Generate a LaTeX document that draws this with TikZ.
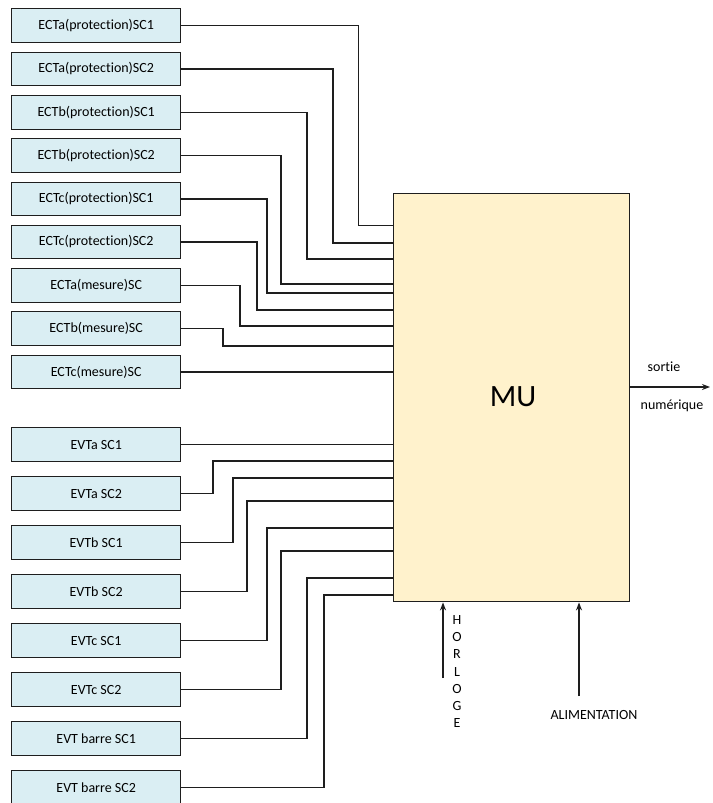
\documentclass[tikz,border=0pt]{standalone}
\usepackage{fontspec}
\setmainfont[Ligatures=NoCommon]{Carlito}
\usetikzlibrary{arrows.meta}
\definecolor{boxblue}{HTML}{DAEEF3}
\definecolor{mufill}{HTML}{FFF2CC}
\definecolor{edge}{HTML}{1E1E1E}
\begin{document}
\begin{tikzpicture}[x=1pt,y=-1pt,
  srcbox/.style={draw=edge,line width=1.4pt,fill=boxblue,minimum width=169pt,minimum height=33.5pt,anchor=north west,inner sep=0pt,font=\fontsize{14}{16}\selectfont},
  wire/.style={line width=1.3pt,draw=edge},
  inarrow/.style={line width=1.3pt,draw=edge,-{Stealth[length=8pt,width=6pt]}},
  lbl/.style={font=\fontsize{14}{16}\selectfont,inner sep=0pt}]
\clip (0,0) rectangle (712,803);
\fill[white] (0,0) rectangle (712,803);
% MU block
\node[draw=edge,line width=1.4pt,fill=mufill,minimum width=236pt,minimum height=408pt,anchor=north west,inner sep=0pt] (mu) at (393,193) {};
\node[font=\fontsize{31}{34}\selectfont,inner sep=0pt] (mut) at (513,397) {MU};
% ECT boxes
\node[srcbox] (c1) at (11,8) {ECTa(protection)SC1};
\node[srcbox] (c2) at (11,51.5) {ECTa(protection)SC2};
\node[srcbox] (c3) at (11,95) {ECTb(protection)SC1};
\node[srcbox] (c4) at (11,138) {ECTb(protection)SC2};
\node[srcbox] (c5) at (11,181.5) {ECTc(protection)SC1};
\node[srcbox] (c6) at (11,224.5) {ECTc(protection)SC2};
\node[srcbox] (c7) at (11,268) {ECTa(mesure)SC};
\node[srcbox] (c8) at (11,311) {ECTb(mesure)SC};
\node[srcbox] (c9) at (11,354.5) {ECTc(mesure)SC};
% EVT boxes
\node[srcbox,minimum height=34pt] (v1) at (11,427) {EVTa SC1};
\node[srcbox,minimum height=34pt] (v2) at (11,476) {EVTa SC2};
\node[srcbox,minimum height=34pt] (v3) at (11,525) {EVTb SC1};
\node[srcbox,minimum height=34pt] (v4) at (11,574) {EVTb SC2};
\node[srcbox,minimum height=34pt] (v5) at (11,623) {EVTc SC1};
\node[srcbox,minimum height=34pt] (v6) at (11,672) {EVTc SC2};
\node[srcbox,minimum height=34pt] (v7) at (11,721) {EVT barre SC1};
\node[srcbox,minimum height=34pt] (v8) at (11,770) {EVT barre SC2};
% ECT wires
\draw[wire] (c1.east) -| (358.7,225.7) -- (mu.west |- 0,225.7);
\draw[wire] (c2.east) -| (333,243) -- (mu.west |- 0,243);
\draw[wire] (c3.east) -| (307,259) -- (mu.west |- 0,259);
\draw[wire] (c4.east) -| (281,284) -- (mu.west |- 0,284);
\draw[wire] (c5.east) -| (267,293) -- (mu.west |- 0,293);
\draw[wire] (c6.east) -| (257,310) -- (mu.west |- 0,310);
\draw[wire] (c7.east) -| (240,326) -- (mu.west |- 0,326);
\draw[wire] (c8.east) -| (223,346) -- (mu.west |- 0,346);
\draw[wire] (c9.east) -- (mu.west |- c9.east);
% EVT wires
\draw[wire] (v1.east) -- (mu.west |- v1.east);
\draw[wire] (v2.east) -| (213,461) -- (mu.west |- 0,461);
\draw[wire] (v3.east) -| (233,478) -- (mu.west |- 0,478);
\draw[wire] (v4.east) -| (247,501) -- (mu.west |- 0,501);
\draw[wire] (v5.east) -| (267,528) -- (mu.west |- 0,528);
\draw[wire] (v6.east) -| (281,551) -- (mu.west |- 0,551);
\draw[wire] (v7.east) -| (307,578) -- (mu.west |- 0,578);
\draw[wire] (v8.east) -| (324,595) -- (mu.west |- 0,595);
% output
\coordinate (outend) at (710,387);
\draw[inarrow] (mu.east |- outend) -- (outend);
\node[lbl] (sortie) at (664,367) {sortie};
\node[lbl] (numerique) at (672,406) {numérique};
% clock
\coordinate (hstart) at (443,678);
\draw[inarrow] (hstart) -- (hstart |- mu.south);
\node[lbl,align=center,font=\fontsize{14}{17.2}\selectfont] (horloge) at (457,671.5) {H\\O\\R\\L\\O\\G\\E};
% power
\coordinate (astart) at (579,696);
\draw[inarrow] (astart) -- (astart |- mu.south);
\node[lbl] (alim) at (594,715) {ALIMENTATION};
\end{tikzpicture}
\end{document}
